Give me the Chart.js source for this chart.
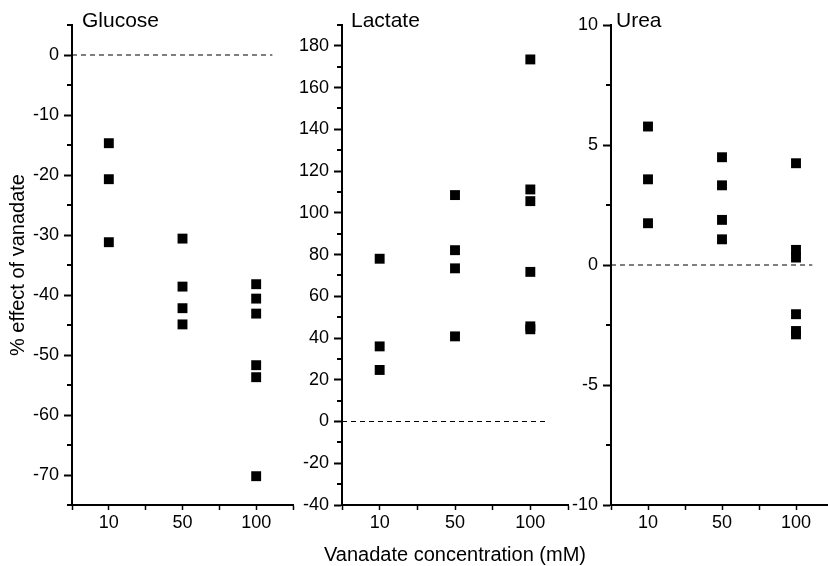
<!DOCTYPE html>
<html>
<head>
<meta charset="utf-8">
<script src="https://cdn.jsdelivr.net/npm/chart.js@4.4.1/dist/chart.umd.min.js"></script>
<style>
  html, body { margin: 0; padding: 0; background: #fff; overflow: hidden; }
  #wrap { position: relative; width: 828px; height: 566px; overflow: hidden; }
  canvas { position: absolute; top: 0; }
</style>
</head>
<body>
<div id="wrap">
  <canvas id="glucose" width="300" height="566" style="left:0px"></canvas>
  <canvas id="lactate" width="320" height="566" style="left:295px"></canvas>
  <canvas id="urea" width="275" height="566" style="left:565px"></canvas>
</div>
<script>
// vanadate doses (categories on the x axis)
const doses = ["10", "50", "100"];

// % effect of vanadate, one array per dose
const glucose10 = [-14.7, -20.7, -31.2];
const glucose50 = [-30.6, -38.6, -42.2, -44.9];
const glucose100 = [-38.2, -40.6, -43.1, -51.7, -53.7, -70.2];

const lactate10 = [78, 36, 24.7];
const lactate50 = [108.5, 82.1, 73.4, 40.8];
const lactate100 = [173.5, 111.2, 105.6, 71.7, 45.6, 44.2];

const urea10 = [5.77, 3.57, 1.74];
const urea50 = [4.49, 3.32, 1.88, 1.07];
const urea100 = [4.24, 0.63, 0.31, -2.05, -2.75, -2.89];

// dashed zero reference line spans this x range
const zeroLineX = [0.5, 3.22];

Chart.defaults.font.family = '"Liberation Sans", Arial, sans-serif';
Chart.defaults.color = "#000";

const near = (v, step) => Math.abs(v / step - Math.round(v / step)) < 1e-6;

// short minor ticks on the y axis (the ones without a label)
const minorTicks = {
  id: "minorTicks",
  afterDraw(chart) {
    const y = chart.scales.y;
    const ctx = chart.ctx;
    ctx.save();
    ctx.strokeStyle = "#000";
    ctx.lineWidth = 2;
    y.ticks.forEach((t) => {
      if (t.label !== "") return;
      const py = Math.round(y.getPixelForValue(t.value));
      ctx.beginPath();
      ctx.moveTo(y.right - 5, py);
      ctx.lineTo(y.right, py);
      ctx.stroke();
    });
    ctx.restore();
  },
};

// panel name in the top left corner, and the shared x title under the middle panel
// (the scale's own title gets squeezed to the chart width, this one is wider)
const panelText = {
  id: "panelText",
  afterDraw(chart, args, opts) {
    const ctx = chart.ctx;
    const area = chart.chartArea;
    ctx.save();
    ctx.fillStyle = "#000";
    ctx.textBaseline = "alphabetic";
    ctx.font = '21px "Liberation Sans", Arial, sans-serif';
    ctx.fillText(opts.text, area.left + opts.dx, 27);
    if (opts.xTitle) {
      ctx.font = '20px "Liberation Sans", Arial, sans-serif';
      ctx.textAlign = "center";
      ctx.fillText(opts.xTitle, (area.left + area.right) / 2, 561);
    }
    ctx.restore();
  },
};

function makePanel(id, cfg) {
  const points = [];
  cfg.values.forEach((vals, i) => {
    vals.forEach((v) => points.push({ x: i + 1, y: v }));
  });

  return new Chart(document.getElementById(id), {
    type: "scatter",
    data: {
      datasets: [
        {
          type: "line",
          data: zeroLineX.map((x) => ({ x: x, y: 0 })),
          borderColor: "#000",
          borderWidth: 1.2,
          borderDash: [5, 4],
          pointRadius: 0,
        },
        {
          data: points,
          pointStyle: "rect",
          pointRadius: 7,
          backgroundColor: "#000",
          borderWidth: 0,
        },
      ],
    },
    options: {
      responsive: false,
      animation: false,
      events: [],
      layout: { padding: { top: 25, right: cfg.padRight, left: 0, bottom: 0 } },
      plugins: {
        legend: { display: false },
        tooltip: { enabled: false },
        panelText: { text: cfg.title, dx: cfg.dx, xTitle: cfg.xTitle },
      },
      scales: {
        x: {
          type: "linear",
          min: 0.5,
          max: 3.5,
          afterFit: (s) => { s.height = 61; },
          border: { color: "#000", width: 2 },
          grid: { drawOnChartArea: false, tickLength: 5, tickWidth: 1.5, tickColor: "#000" },
          ticks: {
            stepSize: 0.5,
            autoSkip: false,
            maxRotation: 0,
            padding: 2,
            font: { size: 18 },
            callback: (v) => (near(v, 1) ? doses[Math.round(v) - 1] : ""),
          },
        },
        y: {
          min: cfg.min,
          max: cfg.max,
          afterFit: (s) => { s.width = cfg.yWidth; },
          border: { color: "#000", width: 2 },
          grid: {
            drawOnChartArea: false,
            tickLength: 8,
            tickWidth: 2,
            tickColor: (c) => (c.tick && near(c.tick.value, cfg.major) ? "#000" : "rgba(0,0,0,0)"),
          },
          ticks: {
            stepSize: cfg.minor,
            autoSkip: false,
            padding: 5,
            font: { size: 18 },
            callback: (v) => (near(v, cfg.major) ? String(v) : ""),
          },
          title: {
            display: !!cfg.yTitle,
            text: cfg.yTitle || "",
            font: { size: 20 },
            padding: { top: 6, bottom: 0 },
          },
        },
      },
    },
    plugins: [minorTicks, panelText],
  });
}

makePanel("glucose", {
  title: "Glucose", dx: 10,
  values: [glucose10, glucose50, glucose100],
  min: -75, max: 5, minor: 5, major: 10,
  yWidth: 72, padRight: 1,
  yTitle: "% effect of vanadate",
});

makePanel("lactate", {
  title: "Lactate", dx: 9,
  values: [lactate10, lactate50, lactate100],
  min: -40, max: 190, minor: 10, major: 20,
  yWidth: 47, padRight: 47,
  xTitle: "Vanadate concentration (mM)",
});

makePanel("urea", {
  title: "Urea", dx: 5,
  values: [urea10, urea50, urea100],
  min: -10, max: 10, minor: 2.5, major: 5,
  yWidth: 46, padRight: 1,
});
</script>
</body>
</html>
